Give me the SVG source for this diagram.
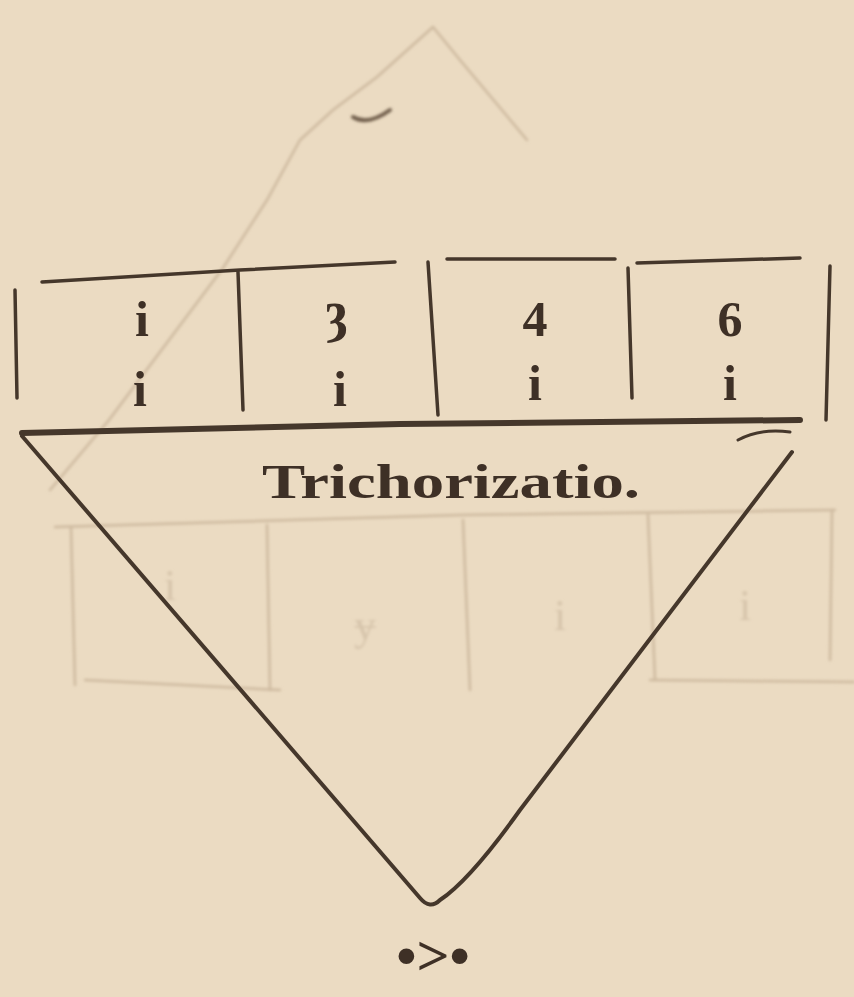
<svg xmlns="http://www.w3.org/2000/svg" width="854" height="997" viewBox="0 0 854 997">
<defs>
<filter id="soft" x="-5%" y="-5%" width="110%" height="110%"><feGaussianBlur stdDeviation="1.4"/></filter>
</defs>
<style>
.ink{stroke:#45372b;fill:none;stroke-linecap:round;stroke-linejoin:round}
.ghost{stroke:#cdb99f;fill:none;stroke-width:2.5;stroke-linecap:round}
.num{font-family:"Liberation Serif","DejaVu Serif",serif;font-weight:bold;font-size:50px;fill:#3e3026;text-anchor:middle}
.ghosttxt{font-family:"Liberation Serif",serif;font-size:44px;fill:#d6c4ab;text-anchor:middle}
</style>
<rect width="854" height="997" fill="#ebdbc2"/>
<g id="ghost-bleed" filter="url(#soft)">
<path class="ghost" d="M433 27 L377 77 L333 110 L300 140 L267 200 L223 268 L109 420 L50 490"/>
<path class="ghost" d="M433 27 L460 60 L527 140"/>
<path class="ghost" d="M353 117 Q368 126 390 110" style="stroke:#6e5c48;stroke-width:4"/>
<path class="ghost" d="M55 527 L460 515 L835 510"/>
<path class="ghost" d="M71 527 L75 685 M267 525 L270 690 M463 520 L470 690 M648 515 L655 680 M832 512 L830 660"/>
<path class="ghost" d="M85 680 L280 690 M650 680 L854 682"/>
<text class="ghosttxt" x="170" y="600">i</text>
<text class="ghosttxt" x="365" y="640">ɏ</text>
<text class="ghosttxt" x="560" y="630">i</text>
<text class="ghosttxt" x="745" y="620">i</text>
</g>
<g id="table">
<path class="ink" stroke-width="3.5" d="M42 282 L240 270 L395 262 M447 259 L615 259 M637 263 L800 258"/>
<path class="ink" stroke-width="3.5" d="M15 290 L17 398 M238 272 L243 410 M428 262 L438 415 M628 268 L632 398 M830 266 L826 420"/>
<text class="num" x="142" y="336">i</text>
<text class="num" x="336" y="330" style="font-size:56px">ȝ</text>
<text class="num" x="535" y="336">4</text>
<text class="num" x="730" y="336">6</text>
<text class="num" x="140" y="406">i</text>
<text class="num" x="340" y="406">i</text>
<text class="num" x="535" y="400">i</text>
<text class="num" x="730" y="400">i</text>
</g>
<g id="label">
<path class="ink" stroke-width="6" d="M22 433 L400 424 L800 420"/>
<path class="ink" stroke-width="3" d="M738 440 Q760 428 790 432"/>
<text x="262" y="498" textLength="378" lengthAdjust="spacingAndGlyphs" style="font-family:'Liberation Serif',serif;font-weight:bold;font-size:48px;fill:#3e3026">Trichorizatio.</text>
</g>
<g id="connectors">
<path class="ink" stroke-width="4" d="M22 436 L420 898 Q430 910 440 900 Q470 880 520 810 L792 452"/>
</g>
<g id="sign">
<text x="433" y="975" text-anchor="middle" style="font-family:'Liberation Serif',serif;font-weight:bold;font-size:58px;fill:#3e3026">•&gt;•</text>
</g>
</svg>
